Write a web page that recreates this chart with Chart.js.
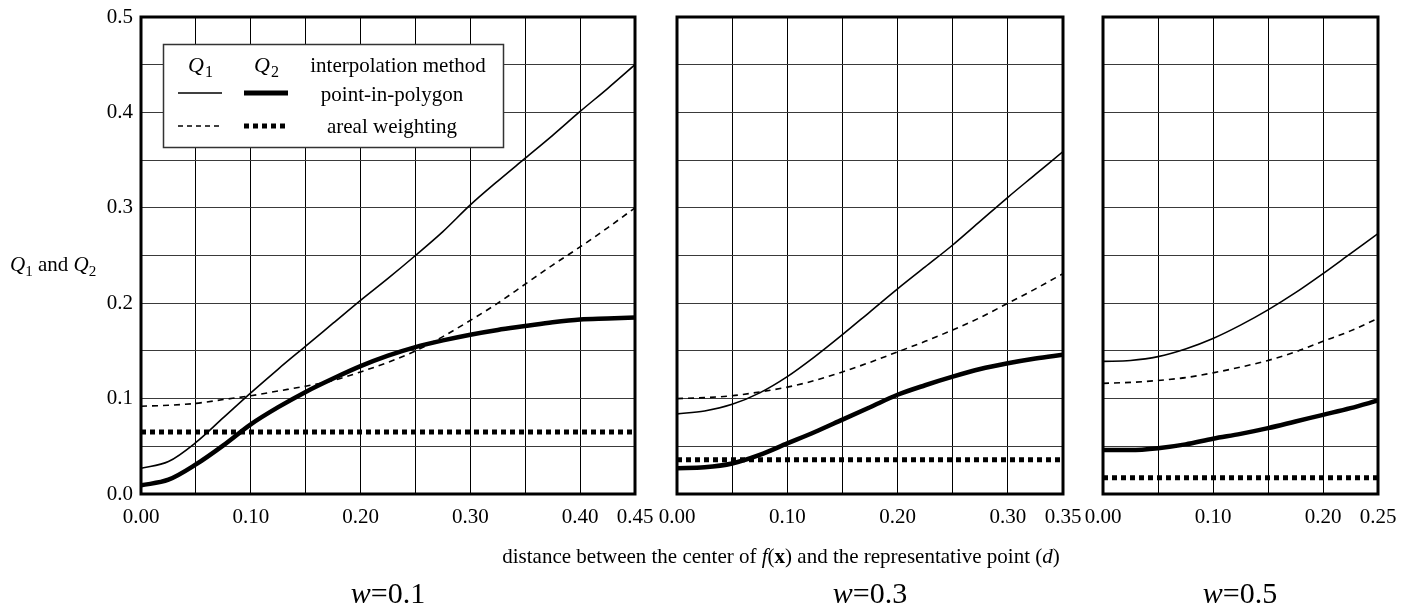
<!DOCTYPE html>
<html>
<head>
<meta charset="utf-8">
<script src="https://cdn.jsdelivr.net/npm/chart.js@4.4.0/dist/chart.umd.min.js"></script>
<style>
  html, body { margin: 0; padding: 0; background: #fff; }
  #wrap { position: relative; width: 1415px; height: 611px; overflow: hidden;
          font-family: 'Liberation Serif', 'Times New Roman', serif; color: #000; }
  #wrap canvas { position: absolute; left: 0; top: 0; }
  .txt { position: absolute; white-space: nowrap; line-height: 1; }
  .txt sub { font-size: 0.72em; vertical-align: -0.35em; line-height: 0; }
  .ytitle { left: 10px; top: 254px; font-size: 21px; }
  .xtitle { left: 781px; top: 546px; font-size: 21px; transform: translateX(-50%); }
  .wlab { top: 578px; font-size: 30px; transform: translateX(-50%); }
</style>
</head>
<body>
<div id="wrap">
  <canvas id="p1" width="1415" height="611"></canvas>
  <canvas id="p2" width="1415" height="611"></canvas>
  <canvas id="p3" width="1415" height="611"></canvas>
  <div class="txt ytitle"><i>Q</i><sub>1</sub> and <i>Q</i><sub>2</sub></div>
  <div class="txt xtitle">distance between the center of <i>f</i>(<b>x</b>) and the representative point (<i>d</i>)</div>
  <div class="txt wlab" style="left:388px"><i>w</i>=0.1</div>
  <div class="txt wlab" style="left:870px"><i>w</i>=0.3</div>
  <div class="txt wlab" style="left:1240px"><i>w</i>=0.5</div>
</div>
<script>
  // ── distances d (x values) ──
  const D_W01 = [0, 0.025, 0.05, 0.075, 0.1, 0.125, 0.15, 0.175, 0.2, 0.225, 0.25, 0.275, 0.3, 0.325, 0.35, 0.375, 0.4, 0.425, 0.45];
  const D_W03 = [0, 0.025, 0.05, 0.075, 0.1, 0.125, 0.15, 0.175, 0.2, 0.225, 0.25, 0.275, 0.3, 0.325, 0.35];
  const D_W05 = [0, 0.025, 0.05, 0.075, 0.1, 0.125, 0.15, 0.175, 0.2, 0.225, 0.25];

  // ── w = 0.1 ──
  const Q1_PIP_W01   = [0.027, 0.034, 0.054, 0.080, 0.106, 0.131, 0.155, 0.179, 0.203, 0.226, 0.250, 0.275, 0.303, 0.328, 0.352, 0.376, 0.401, 0.425, 0.450];
  const Q1_AREAL_W01 = [0.092, 0.093, 0.095, 0.099, 0.103, 0.108, 0.113, 0.119, 0.128, 0.138, 0.150, 0.165, 0.182, 0.200, 0.220, 0.240, 0.259, 0.279, 0.300];
  const Q2_PIP_W01   = [0.009, 0.015, 0.031, 0.051, 0.073, 0.091, 0.107, 0.121, 0.134, 0.145, 0.154, 0.161, 0.167, 0.172, 0.176, 0.180, 0.183, 0.184, 0.185];
  const Q2_AREAL_W01 = 0.065;

  // ── w = 0.3 ──
  const Q1_PIP_W03   = [0.084, 0.087, 0.094, 0.106, 0.123, 0.144, 0.167, 0.191, 0.215, 0.238, 0.261, 0.286, 0.311, 0.335, 0.359];
  const Q1_AREAL_W03 = [0.100, 0.101, 0.103, 0.107, 0.112, 0.119, 0.128, 0.138, 0.149, 0.160, 0.172, 0.185, 0.200, 0.215, 0.231];
  const Q2_PIP_W03   = [0.027, 0.028, 0.032, 0.041, 0.053, 0.065, 0.078, 0.091, 0.104, 0.114, 0.123, 0.131, 0.137, 0.142, 0.146];
  const Q2_AREAL_W03 = 0.036;

  // ── w = 0.5 ──
  const Q1_PIP_W05   = [0.139, 0.140, 0.144, 0.152, 0.163, 0.177, 0.193, 0.211, 0.231, 0.252, 0.273];
  const Q1_AREAL_W05 = [0.116, 0.117, 0.119, 0.122, 0.127, 0.133, 0.140, 0.149, 0.160, 0.171, 0.184];
  const Q2_PIP_W05   = [0.046, 0.046, 0.048, 0.052, 0.058, 0.063, 0.069, 0.076, 0.083, 0.090, 0.098];
  const Q2_AREAL_W05 = 0.017;

  // ── tick labels ──
  const X_LABELS_W01 = ['0.00', '0.10', '0.20', '0.30', '0.40', '0.45'];
  const X_LABELS_W03 = ['0.00', '0.10', '0.20', '0.30', '0.35'];
  const X_LABELS_W05 = ['0.00', '0.10', '0.20', '0.25'];
  const Y_LABELS = ['0.0', '0.1', '0.2', '0.3', '0.4', '0.5'];

  const FONT = "'Liberation Serif', 'Times New Roman', serif";
  const GRID_STEP = 0.05;

  const pts = (xs, ys) => xs.map((x, i) => ({ x, y: Array.isArray(ys) ? ys[i] : ys }));

  // ── frame around the plotting area ──
  const framePlugin = {
    id: 'frame',
    afterDraw(chart) {
      const { ctx, chartArea: a } = chart;
      ctx.save();
      ctx.strokeStyle = '#000';
      ctx.lineWidth = 3;
      ctx.strokeRect(a.left, a.top, a.right - a.left, a.bottom - a.top);
      ctx.restore();
    }
  };

  // ── legend box (panel w=0.1 only) ──
  const legendPlugin = {
    id: 'qlegend',
    afterDraw(chart) {
      const ctx = chart.ctx;
      const bx = 163, by = 44, bw = 340, bh = 103;
      ctx.save();
      ctx.fillStyle = '#fff';
      ctx.fillRect(bx, by, bw, bh);
      ctx.strokeStyle = '#333';
      ctx.lineWidth = 1.5;
      ctx.strokeRect(bx + 0.5, by + 0.5, bw, bh);

      ctx.fillStyle = '#000';
      ctx.textBaseline = 'alphabetic';
      const qsub = (cx, baseY, n) => {
        ctx.font = `italic 22px ${FONT}`;
        const wq = ctx.measureText('Q').width;
        ctx.font = `16px ${FONT}`;
        const wn = ctx.measureText(n).width;
        const x0 = cx - (wq + wn) / 2;
        ctx.font = `italic 22px ${FONT}`;
        ctx.fillText('Q', x0, baseY);
        ctx.font = `16px ${FONT}`;
        ctx.fillText(n, x0 + wq + 1, baseY + 5);
      };
      qsub(200, 72, '1');
      qsub(266, 72, '2');

      ctx.font = `21px ${FONT}`;
      ctx.textAlign = 'center';
      ctx.fillText('interpolation method', 398, 72);
      ctx.fillText('point-in-polygon', 392, 101);
      ctx.fillText('areal weighting', 392, 133);

      const seg = (x1, x2, y, w, dash) => {
        ctx.beginPath();
        ctx.lineWidth = w;
        ctx.setLineDash(dash);
        ctx.moveTo(x1, y);
        ctx.lineTo(x2, y);
        ctx.stroke();
      };
      ctx.strokeStyle = '#000';
      seg(178, 222, 93, 1.6, []);
      seg(244, 288, 93, 5, []);
      seg(178, 222, 126, 1.6, [5, 4]);
      seg(244, 288, 126, 5, [5, 4]);
      ctx.restore();
    }
  };

  function makePanel(id, xs, q1pip, q1areal, q2pip, q2areal, xmax, xLabels, pad, showY) {
    const ctx = document.getElementById(id).getContext('2d');
    const common = { borderColor: '#000', pointRadius: 0, fill: false, cubicInterpolationMode: 'monotone', borderCapStyle: 'butt' };
    return new Chart(ctx, {
      type: 'line',
      data: {
        datasets: [
          { ...common, label: 'Q1 point-in-polygon', data: pts(xs, q1pip), borderWidth: 1.6 },
          { ...common, label: 'Q1 areal weighting', data: pts(xs, q1areal), borderWidth: 1.6, borderDash: [6, 5] },
          { ...common, label: 'Q2 point-in-polygon', data: pts(xs, q2pip), borderWidth: 4.5 },
          { ...common, label: 'Q2 areal weighting', data: pts([0, xmax], q2areal), borderWidth: 5, borderDash: [5, 4] },
        ],
      },
      options: {
        responsive: false,
        animation: false,
        events: [],
        layout: { padding: pad },
        plugins: { legend: { display: false }, tooltip: { enabled: false } },
        scales: {
          x: {
            type: 'linear',
            min: 0,
            max: xmax,
            afterBuildTicks: s => {
              const t = [];
              for (let i = 0; i * GRID_STEP <= xmax + 1e-9; i++) t.push({ value: +(i * GRID_STEP).toFixed(2) });
              s.ticks = t;
            },
            afterFit: s => { s.height = 40; },
            grid: { color: '#000', lineWidth: 1, drawTicks: false },
            border: { display: false },
            ticks: {
              padding: 11,
              maxRotation: 0,
              autoSkip: false,
              color: '#000',
              font: { family: FONT, size: 21 },
              callback: v => { const s = v.toFixed(2); return xLabels.includes(s) ? s : ''; },
            },
          },
          y: {
            type: 'linear',
            min: 0,
            max: 0.5,
            afterBuildTicks: s => {
              const t = [];
              for (let i = 0; i <= 10; i++) t.push({ value: +(i * GRID_STEP).toFixed(2) });
              s.ticks = t;
            },
            afterFit: s => { s.width = showY ? 141 : 0; s.paddingTop = 0; s.paddingBottom = 0; },
            grid: { color: '#3a3a3a', lineWidth: 1, drawTicks: false },
            border: { display: false },
            ticks: {
              display: showY,
              padding: 8,
              autoSkip: false,
              color: '#000',
              font: { family: FONT, size: 21 },
              callback: v => { const s = v.toFixed(1); return (Y_LABELS.includes(s) && Math.abs(v * 10 - Math.round(v * 10)) < 1e-6) ? s : ''; },
            },
          },
        },
      },
      plugins: showY ? [framePlugin, legendPlugin] : [framePlugin],
    });
  }

  makePanel('p1', D_W01, Q1_PIP_W01, Q1_AREAL_W01, Q2_PIP_W01, Q2_AREAL_W01, 0.45, X_LABELS_W01,
    { left: 0, right: 1415 - 635, top: 17, bottom: 611 - 494 - 40 }, true);
  makePanel('p2', D_W03, Q1_PIP_W03, Q1_AREAL_W03, Q2_PIP_W03, Q2_AREAL_W03, 0.35, X_LABELS_W03,
    { left: 677, right: 1415 - 1063, top: 17, bottom: 611 - 494 - 40 }, false);
  makePanel('p3', D_W05, Q1_PIP_W05, Q1_AREAL_W05, Q2_PIP_W05, Q2_AREAL_W05, 0.25, X_LABELS_W05,
    { left: 1103, right: 1415 - 1378, top: 17, bottom: 611 - 494 - 40 }, false);
</script>
</body>
</html>
